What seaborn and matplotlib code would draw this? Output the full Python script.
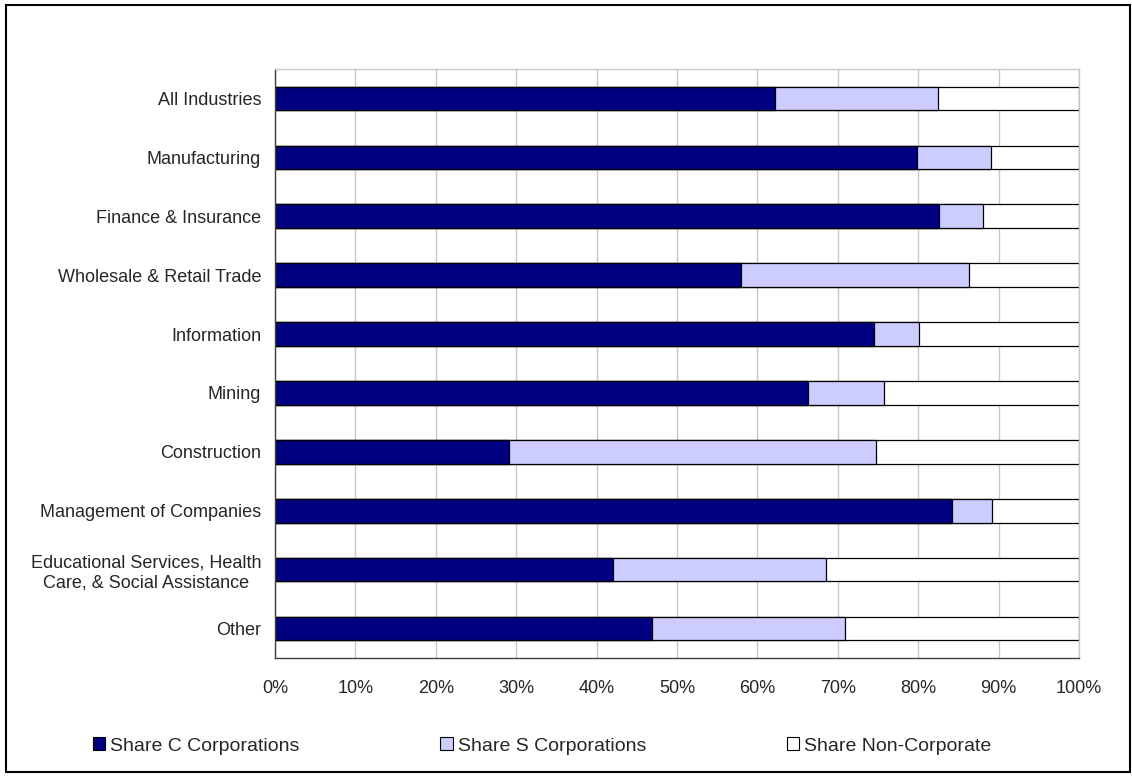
import matplotlib
matplotlib.use("Agg")
import matplotlib.pyplot as plt
from matplotlib.patches import Patch, Rectangle
import seaborn as sns
import numpy as np

categories = [
    "All Industries",
    "Manufacturing",
    "Finance & Insurance",
    "Wholesale & Retail Trade",
    "Information",
    "Mining",
    "Construction",
    "Management of Companies",
    "Educational Services, Health\nCare, & Social Assistance",
    "Other",
]
share_c = [62.2, 79.9, 82.6, 57.9, 74.5, 66.3, 29.1, 84.2, 42.0, 46.9]
share_s = [20.3, 9.2, 5.4, 28.4, 5.6, 9.4, 45.7, 5.0, 26.5, 24.0]
share_non = [round(100 - c - s, 1) for c, s in zip(share_c, share_s)]
series_names = ["Share C Corporations", "Share S Corporations", "Share Non-Corporate"]
series_colors = ["#000080", "#CCCCFF", "#FFFFFF"]
x_ticks = list(range(0, 101, 10))
x_tick_labels = [f"{t}%" for t in x_ticks]

sns.set_style("white")
plt.rcParams["font.family"] = ["Liberation Sans", "DejaVu Sans"]

W, H = 1132, 777
fig = plt.figure(figsize=(W / 100, H / 100), dpi=100)
ax = fig.add_axes([275 / W, 1 - 658 / H, (1079 - 275) / W, (658 - 69) / H])

c = np.array(share_c)
s = np.array(share_s)
n = np.array(share_non)
layers = [c + s + n, c + s, c]
layer_colors = [series_colors[2], series_colors[1], series_colors[0]]
for vals, col in zip(layers, layer_colors):
    sns.barplot(x=vals, y=categories, orient="h", color=col, saturation=1,
                edgecolor="black", linewidth=0.9, width=0.4, ax=ax)

ax.set_xlim(0, 100)
ax.set_ylim(9.5, -0.5)
ax.set_xticks(x_ticks)
ax.set_xticklabels(x_tick_labels, fontsize=13)
ax.set_ylabel("")
ax.set_xlabel("")
ax.tick_params(axis="y", which="major", length=0, pad=10, labelsize=13)
ax.set_yticks(np.arange(-0.5, 10, 1), minor=True)
ax.tick_params(axis="y", which="minor", length=5, width=0.9, color="#303030", direction="out")
ax.tick_params(axis="x", which="major", length=5, width=0.9, color="#303030", direction="out", pad=10.5)
for lab in ax.get_yticklabels():
    lab.set_horizontalalignment("right")
    lab.set_multialignment("center")
    lab.set_linespacing(1.25)

ax.xaxis.grid(True, color="#C8C8C8", linewidth=1.0)
ax.yaxis.grid(False)
ax.set_axisbelow(True)
for side in ["top", "right"]:
    ax.spines[side].set_color("#C8C8C8")
    ax.spines[side].set_linewidth(1.0)
for side in ["left", "bottom"]:
    ax.spines[side].set_color("#404040")
    ax.spines[side].set_linewidth(1.0)

handles = [Patch(facecolor=col, edgecolor="black", linewidth=0.8) for col in series_colors]
leg = fig.legend(handles, series_names, loc="center left", ncol=3,
                 bbox_to_anchor=(93 / W, 1 - 746 / H), frameon=False, fontsize=14,
                 handlelength=0.62, handleheight=0.62, handletextpad=0.26,
                 columnspacing=7.25, borderaxespad=0, borderpad=0)

fig.add_artist(Rectangle((6 / W, 5 / H), (1130 - 6) / W, (772 - 5) / H,
                         transform=fig.transFigure, fill=False, edgecolor="black",
                         linewidth=1.5))

fig.savefig("out.png", dpi=100, facecolor="white")
